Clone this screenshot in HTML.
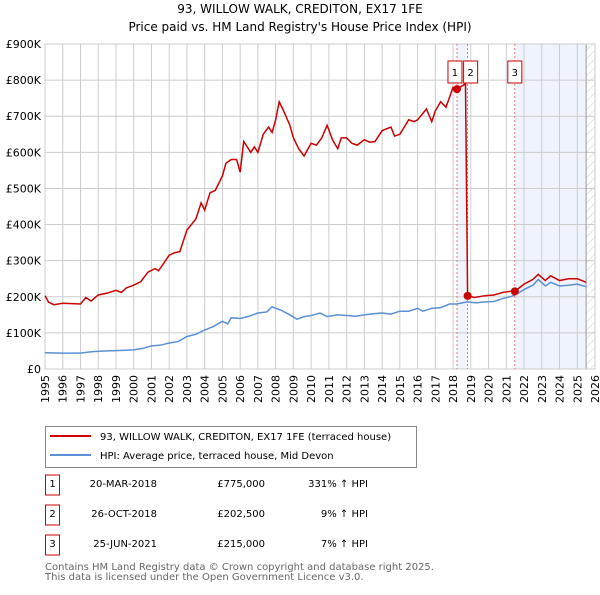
<!DOCTYPE html>
<html><head><meta charset="utf-8"><style>
body{margin:0;width:600px;height:590px;background:#fff;font-family:"Liberation Sans","DejaVu Sans",sans-serif;overflow:hidden}
svg text{font-family:"DejaVu Sans","Liberation Sans",sans-serif}
</style></head><body>
<svg id="c" width="600" height="590">
<text x="300" y="13" text-anchor="middle" font-size="12">93, WILLOW WALK, CREDITON, EX17 1FE</text>
<text x="300" y="31" text-anchor="middle" font-size="12">Price paid vs. HM Land Registry's House Price Index (HPI)</text>
<g id="grid"></g><g id="axes"></g><g id="series"></g>
<g>
<rect x="45.5" y="426.5" width="371" height="41" fill="#fff" stroke="#888"/>
<line x1="50" y1="436" x2="91" y2="436" stroke="#cc0000" stroke-width="2"/>
<text x="100" y="440" font-size="10">93, WILLOW WALK, CREDITON, EX17 1FE (terraced house)</text>
<line x1="50" y1="455" x2="91" y2="455" stroke="#5b8fd6" stroke-width="2"/>
<text x="100" y="459" font-size="10">HPI: Average price, terraced house, Mid Devon</text>
</g>
<g id="table" font-size="10"></g>
<text x="45" y="570" font-size="10" fill="#666">Contains HM Land Registry data © Crown copyright and database right 2025.</text>
<text x="45" y="580" font-size="10" fill="#666">This data is licensed under the Open Government Licence v3.0.</text>
</svg>
<script>
const yTicks=[0,100,200,300,400,500,600,700,800,900];
const yTickLabels=["£0","£100K","£200K","£300K","£400K","£500K","£600K","£700K","£800K","£900K"];
const xYears=[1995,1996,1997,1998,1999,2000,2001,2002,2003,2004,2005,2006,2007,2008,2009,2010,2011,2012,2013,2014,2015,2016,2017,2018,2019,2020,2021,2022,2023,2024,2025,2026];
const hpiT=[1995,1996,1997,1997.5,1998,1999,2000,2000.5,2001,2001.5,2002,2002.5,2003,2003.5,2004,2004.5,2005,2005.3,2005.5,2006,2006.5,2007,2007.5,2007.8,2008.3,2008.8,2009.2,2009.6,2010,2010.5,2010.9,2011.5,2012,2012.5,2013,2013.5,2014,2014.5,2015,2015.5,2016,2016.3,2016.8,2017.3,2017.8,2018.2,2018.8,2019.3,2019.8,2020.3,2020.8,2021.2,2021.5,2022,2022.5,2022.8,2023.2,2023.5,2024,2024.5,2025,2025.5];
const hpiV=[45,44,44,47,49,51,53,57,64,66,72,76,90,96,108,118,132,125,142,140,146,155,158,172,163,150,138,145,148,155,145,150,148,146,150,153,155,152,160,160,168,160,168,170,180,180,186,183,186,187,195,200,205,220,232,248,230,240,230,232,235,228];
const priceT=[1995,1995.2,1995.5,1996,1997,1997.3,1997.6,1998,1998.5,1999,1999.3,1999.6,2000,2000.4,2000.8,2001.2,2001.4,2002,2002.3,2002.6,2003,2003.5,2003.8,2004,2004.3,2004.6,2005,2005.2,2005.5,2005.8,2006,2006.2,2006.6,2006.8,2007,2007.3,2007.6,2007.8,2008,2008.2,2008.4,2008.8,2009,2009.3,2009.6,2010,2010.3,2010.6,2010.9,2011.2,2011.5,2011.7,2012,2012.3,2012.6,2013,2013.3,2013.6,2014,2014.5,2014.7,2015,2015.5,2015.8,2016,2016.5,2016.8,2017,2017.3,2017.6,2018,2018.22,2018.7,2018.82,2019.2,2019.8,2020.3,2020.8,2021.2,2021.48,2022,2022.5,2022.8,2023.2,2023.5,2024,2024.5,2025,2025.5];
const priceV=[203,185,178,182,180,198,188,205,210,218,212,225,232,242,268,278,272,315,322,325,385,415,460,440,488,495,535,570,580,580,545,630,600,615,600,650,670,655,690,740,720,675,640,610,590,625,620,640,675,635,610,640,640,625,620,635,628,630,660,670,645,650,690,685,690,720,685,715,740,725,780,775,790,202.5,198,203,205,212,215,215,235,248,262,245,258,245,250,250,240];
const saleT=[2018.22,2018.82,2021.48];
const saleV=[775,202.5,215];
const saleLabels=["1","2","3"];
const saleDates=["20-MAR-2018","26-OCT-2018","25-JUN-2021"];
const salePrices=["£775,000","£202,500","£215,000"];
const saleHpi=["331% ↑ HPI","9% ↑ HPI","7% ↑ HPI"];

const NS="http://www.w3.org/2000/svg";
const L=45,R=595,T=44,B=369;
const x=t=>L+(t-1995)/31*(R-L);
const y=v=>B-v/900*(B-T);
function mk(p,tag,a){const e=document.createElementNS(NS,tag);for(const k in a)e.setAttribute(k,a[k]);p.appendChild(e);return e;}
const grid=document.getElementById('grid'),axes=document.getElementById('axes'),ser=document.getElementById('series'),tbl=document.getElementById('table');
let r=mk(grid,'rect',{x:x(saleT[0]),y:T,width:x(saleT[1])-x(saleT[0]),height:B-T,fill:'#eef3fc'});


r=mk(grid,'rect',{x:x(saleT[2]),y:T,width:x(2025.5)-x(saleT[2]),height:B-T,fill:'#eef3fc'});


const pat=mk(grid,'pattern',{id:'h',width:6,height:6,patternUnits:'userSpaceOnUse',patternTransform:'rotate(45)'});
mk(pat,'line',{x1:0,y1:0,x2:0,y2:6,stroke:'#ccc','stroke-width':1});
r=mk(grid,'rect',{x:x(2025.5),y:T,width:R-x(2025.5),height:B-T,fill:'url(#h)'});


xYears.forEach(t=>{
 const l=mk(grid,'line',{x1:x(t),x2:x(t),y1:T,y2:B,stroke:'#ccc','stroke-width':1});
 
 
 const tx=mk(axes,'text',{x:0,y:0,'font-size':11,'text-anchor':'end',transform:`translate(${x(t)+4},${B+6}) rotate(-90)`});
 tx.textContent=t;
 
 
});
yTicks.forEach((v,i)=>{
 const l=mk(grid,'line',{x1:L,x2:R,y1:y(v),y2:y(v),stroke:'#ccc','stroke-width':1});
 
 
 const tx=mk(axes,'text',{x:L-4,y:y(v)+4,'font-size':11,'text-anchor':'end'});
 tx.textContent=yTickLabels[i];
 
 
});
mk(grid,'line',{x1:x(2025.5),x2:x(2025.5),y1:T,y2:B,stroke:'#999'});
saleT.forEach(t=>{
 const l=mk(ser,'line',{x1:x(t),x2:x(t),y1:T,y2:B,stroke:'#e06060','stroke-dasharray':'2,2','stroke-width':0.8});
 
 
});
let p=mk(ser,'polyline',{points:hpiT.map((t,i)=>x(t)+','+y(hpiV[i])).join(' '),fill:'none',stroke:'#5b8fd6','stroke-width':1.5});


p=mk(ser,'polyline',{points:priceT.map((t,i)=>x(t)+','+y(priceV[i])).join(' '),fill:'none',stroke:'#cc0000','stroke-width':1.5});


saleT.forEach((t,i)=>{
 const d=mk(ser,'circle',{cx:x(t),cy:y(saleV[i]),r:4,fill:'#cc0000'});
 
 
 const bx=i==2?x(t)-7:(i==0?x(t)-9:x(t)-4);
 const g=mk(ser,'g',{});
 
 
 mk(g,'rect',{x:bx,y:61,width:14,height:22,fill:'#fff',stroke:'#cc0000'});
 const tx=mk(g,'text',{x:bx+7,y:76,'font-size':10,'text-anchor':'middle'});tx.textContent=saleLabels[i];
 const ry=487+i*30;
 const tg=mk(tbl,'g',{});
 
 
 mk(tg,'rect',{x:45.5,y:ry-12,width:14,height:20,fill:'#fff',stroke:'#cc0000'});
 let s=mk(tg,'text',{x:52.5,y:ry,'text-anchor':'middle'});s.textContent=saleLabels[i];
 s=mk(tg,'text',{x:157,y:ry,'text-anchor':'end'});s.textContent=saleDates[i];
 s=mk(tg,'text',{x:265,y:ry,'text-anchor':'end'});s.textContent=salePrices[i];
 s=mk(tg,'text',{x:368,y:ry,'text-anchor':'end'});s.textContent=saleHpi[i];
});
mk(axes,'rect',{x:L,y:T,width:R-L,height:B-T,fill:'none',stroke:'#ccc'});
</script>
</body></html>
